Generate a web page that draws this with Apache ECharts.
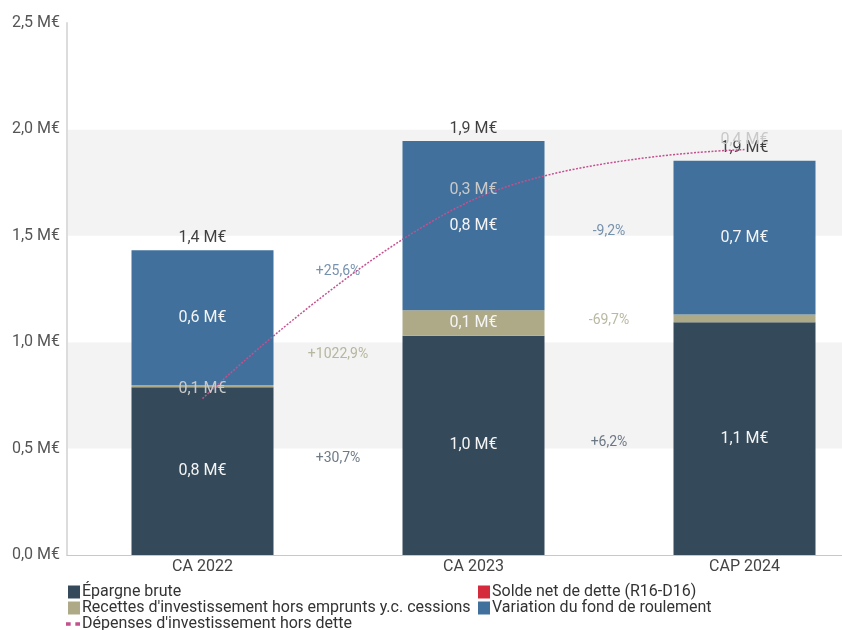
<!DOCTYPE html>
<html>
<head>
<meta charset="utf-8">
<script src="https://cdn.jsdelivr.net/npm/echarts@6/dist/echarts.min.js"></script>
<style>
  html, body { margin: 0; padding: 0; background: #fff; }
  #chart { width: 842px; height: 630px; }
</style>
</head>
<body>
<div id="chart"></div>
<script>
// Financement de l'investissement (M€)
const categories = ['CA 2022', 'CA 2023', 'CAP 2024'];
const epargneBrute = [0.7881, 1.0300, 1.0939];
const recettesInvest = [0.0107, 0.12015, 0.0364];
const soldeNetDette = [0, 0, 0];
const variationFdr = [0.6330, 0.7950, 0.7219];
const depensesInvest = [0.147, 0.334, 0.381];
const yMin = 0, yMax = 2.5, yStep = 0.5;
const depensesAxisMax = 0.5;

const FONT = 'Roboto';
const C_EPARGNE = '#344a5a';
const C_RECETTES = '#aeaa88';
const C_SOLDE = '#d42a3c';
const C_VARIATION = '#41709c';
const C_DEPENSES = '#c4508e';

const fmtM = v => v.toFixed(1).replace('.', ',') + ' M€';
const fmtPct = p => (p >= 0 ? '+' : '') + p.toFixed(1).replace('.', ',') + '%';

// stacked segments, bottom to top
const stack = [
  { name: 'Épargne brute', data: epargneBrute, color: C_EPARGNE, pctColor: '#485866' },
  { name: "Recettes d'investissement hors emprunts y.c. cessions", data: recettesInvest, color: C_RECETTES, pctColor: '#a8a68a' },
  { name: 'Solde net de dette (R16-D16)', data: soldeNetDette, color: C_SOLDE, pctColor: null },
  { name: 'Variation du fond de roulement', data: variationFdr, color: C_VARIATION, pctColor: '#55779a' }
];

const totals = categories.map((_, i) => stack.reduce((s, k) => s + k.data[i], 0));

// middle of each segment, for placing the evolution labels between columns
const bases = stack.map((_, si) => categories.map((_, i) =>
  stack.slice(0, si).reduce((s, k) => s + k.data[i], 0)));
const mid = (si, i) => bases[si][i] + stack[si].data[i] / 2;

const pctSeries = [];
stack.forEach((k, si) => {
  if (!k.pctColor) return;
  const pts = [];
  for (let i = 0; i < categories.length - 1; i++) {
    const a = k.data[i], b = k.data[i + 1];
    pts.push({
      value: [i + 0.5, (mid(si, i) + mid(si, i + 1)) / 2],
      pct: (b / a - 1) * 100
    });
  }
  pctSeries.push({
    type: 'scatter',
    xAxisIndex: 1,
    yAxisIndex: 0,
    symbolSize: 1,
    itemStyle: { color: 'rgba(0,0,0,0)' },
    silent: true,
    z: 5,
    data: pts,
    label: {
      show: true,
      position: 'inside',
      fontFamily: FONT,
      fontSize: 14,
      color: k.pctColor,
      formatter: p => fmtPct(p.data.pct)
    }
  });
});

const barSeries = stack.map(k => ({
  name: k.name,
  type: 'bar',
  stack: 'financement',
  barWidth: 142,
  data: k.data,
  itemStyle: { color: k.color },
  label: {
    show: true,
    position: 'inside',
    fontFamily: FONT,
    fontSize: 16,
    color: '#f4f4f4',
    formatter: p => (p.value >= 0.05 ? fmtM(p.value) : '')
  },
  z: 2
}));

const totalSeries = {
  type: 'scatter',
  xAxisIndex: 0,
  yAxisIndex: 0,
  symbolSize: 1,
  itemStyle: { color: 'rgba(0,0,0,0)' },
  silent: true,
  z: 6,
  data: totals,
  label: {
    show: true,
    position: 'top',
    distance: 4,
    fontFamily: FONT,
    fontSize: 16,
    color: '#111',
    formatter: p => fmtM(p.value)
  }
};

const DEP_NAME = "Dépenses d'investissement hors dette";
const lineSeries = {
  name: DEP_NAME,
  type: 'line',
  xAxisIndex: 0,
  yAxisIndex: 1,
  data: depensesInvest,
  smooth: 0.4,
  symbol: 'circle',
  symbolSize: 0.1,
  showSymbol: true,
  z: 8,
  lineStyle: { color: C_DEPENSES, width: 1.5, type: [2, 1.5] },
  itemStyle: { color: C_DEPENSES },
  label: {
    show: true,
    position: 'top',
    distance: 2,
    fontFamily: FONT,
    fontSize: 16,
    color: '#c9c9c9',
    formatter: p => fmtM(p.value)
  }
};

const legendBase = {
  orient: 'horizontal',
  icon: 'rect',
  itemWidth: 12,
  itemHeight: 13,
  itemGap: 4,
  padding: 0,
  selectedMode: false,
  textStyle: { fontFamily: FONT, fontSize: 16, color: '#333', padding: [0, 0, 0, -3] }
};

const option = {
  animation: false,
  backgroundColor: '#fff',
  grid: { left: 67, top: 23, right: -38, bottom: 75, containLabel: false, outerBoundsMode: 'none' },
  xAxis: [
    {
      type: 'category',
      data: categories,
      axisLine: { lineStyle: { color: '#c8c8c8' } },
      axisTick: { show: false },
      axisLabel: { fontFamily: FONT, fontSize: 16, color: '#444', margin: 4 }
    },
    { type: 'value', min: -0.5, max: 2.5, show: false }
  ],
  yAxis: [
    {
      type: 'value',
      min: yMin,
      max: yMax,
      interval: yStep,
      axisLine: { show: true, onZero: false, lineStyle: { color: '#dcdcdc', width: 2 } },
      axisTick: { show: false },
      splitLine: { show: false },
      splitArea: { show: true, areaStyle: { color: ['#ffffff', '#f3f3f3'] } },
      axisLabel: { fontFamily: FONT, fontSize: 16, color: '#555', margin: 7, formatter: v => fmtM(v) }
    },
    { type: 'value', min: 0, max: depensesAxisMax, show: false, splitLine: { show: false } }
  ],
  legend: [
    Object.assign({}, legendBase, { left: 68, top: 584, data: ['Épargne brute'] }),
    Object.assign({}, legendBase, { left: 68, top: 600, data: ["Recettes d'investissement hors emprunts y.c. cessions"] }),
    Object.assign({}, legendBase, {
      left: 66, top: 616, itemWidth: 14,
      data: [{ name: DEP_NAME, icon: 'path://M0,5h4v3h-4z M8,5h4v3h-4z' }]
    }),
    Object.assign({}, legendBase, { left: 478, top: 584, data: ['Solde net de dette (R16-D16)'] }),
    Object.assign({}, legendBase, { left: 478, top: 600, data: ['Variation du fond de roulement'] })
  ],
  series: [...barSeries, lineSeries, totalSeries, ...pctSeries]
};

const chart = echarts.init(document.getElementById('chart'), null, { renderer: 'canvas' });
chart.setOption(option);
</script>
</body>
</html>
